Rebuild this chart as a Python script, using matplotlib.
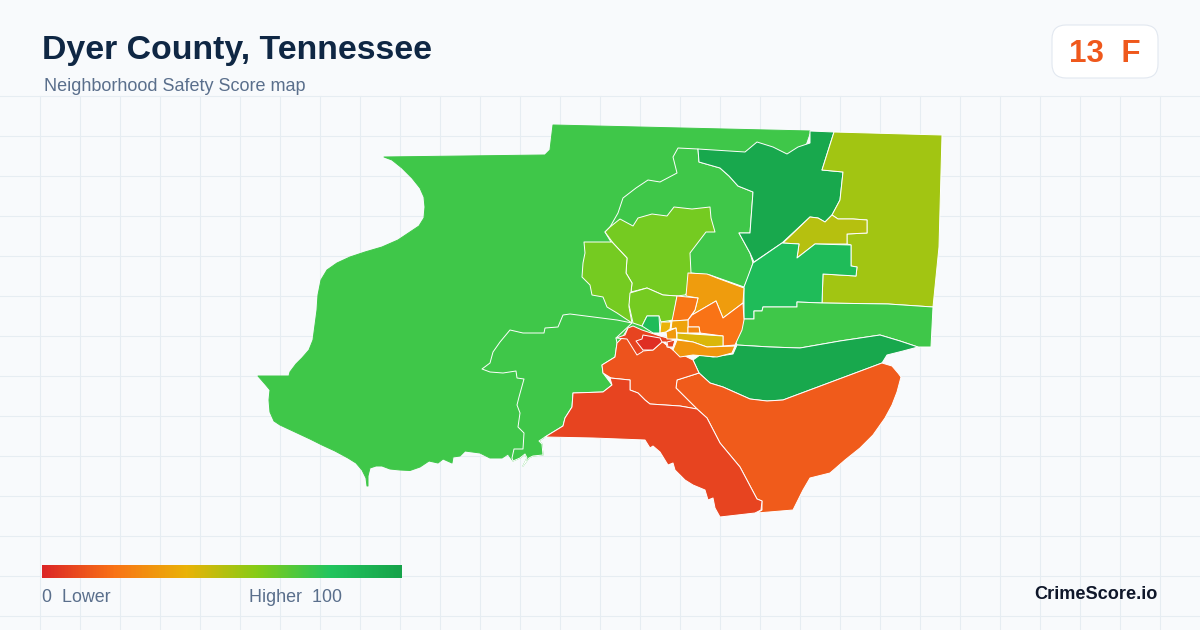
# Dyer County safety score map, outlines in pixels

import numpy as np
import matplotlib
matplotlib.use('Agg')
import matplotlib.pyplot as plt
from matplotlib.colors import LinearSegmentedColormap
from matplotlib.patches import Polygon, FancyBboxPatch

plt.rcParams['font.family'] = ['Liberation Sans', 'DejaVu Sans']

title = 'Dyer County, Tennessee'
subtitle = 'Neighborhood Safety Score map'
badge = '13  F'
brand = 'CrimeScore.io'

scale_stops = [0, 20, 40, 60, 80, 100]
scale_colors = ['#dc2626', '#f97316', '#eab308', '#84cc16', '#22c55e', '#16a34a']

west = [(384,157),(545,155),(550,150),(553,125),(810,131),(800,160),(740,200),(700,300),(640,340),
        (620,350),(600,370),(573,393),(545,437),(539,441),(542,444),(543,455),(533,456),(529,458),(523,466),
        (527,458),(525,454),(520,458),(513,461),(508,454),(502,458),(490,458),(480,453),(465,451),(460,456),
        (453,457),(452,463),(443,459),(438,463),(429,461),(420,467),(410,470.5),(400,470),(390,469),(382,466),
        (376,466),(370,468),(368,476),(368,486),(367,486),(366,478),(362,470),(356,463),(348,458),(335,451),
        (322,445),(310,439),(295,432),(280,425),(274,421),(270,412),(269,400),(270,390),(265,384),(258,376),
        (289,376),(290,372),(296,364),(302,358),(309,350),(313,340),(315,325),(317,310),(318,295),(321,280),
        (327,270),(337,263),(350,257),(365,252),(382,247),(398,240),(410,232),(419,226),(424,218),(425,207),
        (424,197),(420,188),(412,178),(402,168),(392,160)]
west_inner = [(570,314),(563,315),(558,327),(545,328),(544,333),(523,333),(510,330),(500,342),(493,352),(490,363),
              (482,369),(490,372),(503,373),(516,371),(517,378),(524,379),(519,397),(517,405),(520,413),(518,427),
              (524,433),(523,449),(514,449),(512,458),(513,461),(520,458),(525,454),(527,458),(523,466),(529,458),
              (533,456),(543,455),(542,444),(539,441),(545,437),(563,426),(565,418),(572,407),(573,393),(603,392),
              (612,385),(603,373),(602,365),(615,357),(617,343),(616,338),(632,323),(617,320)]
north_mid = [(698,149),(678,148),(673,157),(677,173),(660,182),(648,180),(636,188),(623,198),(618,213),(610,227),(605,232),
             (640,290),(691,273),(710,275),(744,287),(748,278),(753,263),(750,253),(739,233),(750,233),(753,192),(738,186),
             (729,176),(720,168),(699,162)]
dark_north = [(698,149),(745,152),(757,142),(773,147),(787,154),(798,147),(810,143),(810,131),(834,132),(822,170),
              (843,172),(840,200),(832,215),(825,222),(818,218),(810,217),(782,243),(754,262),(750,253),(739,233),
              (750,233),(753,192),(738,186),(729,176),(720,168),(699,162)]
east = [(834,132),(942,135),(939,247),(933,307),(888,304),(822,303),(823,274),(856,276),(857,267),(851,266),
        (851,245),(847,244),(847,234),(867,233),(867,220),(853,219),(838,219),(832,215),(840,200),(843,172),(822,170)]
olive = [(810,217),(818,218),(825,222),(832,215),(838,219),(853,219),(867,220),(867,233),(847,234),(847,244),
         (815,244),(797,258),(799,244),(783,243)]
teal = [(782,243),(799,244),(797,258),(815,244),(851,245),(851,266),(857,267),(856,276),(823,274),(822,303),
        (797,302),(797,307),(763,307),(762,311),(754,311),(754,319),(744,319),(744,287),(753,263)]
band = [(744,319),(754,319),(754,311),(762,311),(763,307),(797,307),(797,302),(822,303),(888,304),(933,307),
        (931,347),(918,347),(900,341),(880,335),(840,341),(800,348),(770,347),(737,345),(735,340)]
dark_south = [(737,345),(770,347),(800,348),(840,341),(880,335),(900,341),(918,347),(903,351),(887,355),(882,363),
              (783,400),(767,401),(750,399),(723,387),(710,383),(699,373),(693,360),(700,355),(713,357),(733,354)]
south = [(699,373),(710,383),(723,387),(750,399),(767,401),(783,400),(882,363),(892,366),(898,373),(901,377),(897,392),
         (892,405),(885,418),(873,435),(860,448),(845,460),(830,473),(810,478),(803,490),(793,510),(757,513),(762,510),
         (762,501),(757,499),(740,467),(720,443),(707,418),(697,409),(676,388),(677,380)]
southwest = [(697,409),(707,418),(720,443),(740,467),(757,499),(762,501),(761,510),(755,513),(720,517),(715,508),
             (713,498),(708,500),(705,490),(693,485),(685,480),(675,470),(673,463),(668,465),(660,452),(653,446),
             (650,448),(645,440),(593,438),(545,437),(563,426),(565,418),(572,407),(573,393),(603,392),(612,385),
             (610,378),(630,380),(630,390),(638,393),(645,400),(650,404),(680,406)]
mid = [(677,380),(699,373),(693,360),(673,350),(660,340),(628,328),(622,338),(617,343),(615,357),(602,365),
       (603,373),(611,378),(630,380),(630,390),(638,393),(645,400),(650,404),(680,406),(697,409),(676,388)]
mid_top = [(616,338),(625,335),(628,328),(633,326),(642,330),(660,336),(675,340),(672,348),(667,347),(666,342),
           (662,342),(653,350),(643,351),(642,352),(637,355),(627,339)]
red_core = [(636,341),(642,339),(643,335),(660,338),(662,342),(653,350),(643,350)]
red_patch = [(667,342),(675,340),(673,347),(668,347)]
lime_large = [(605,232),(610,227),(620,219),(633,226),(638,218),(652,214),(667,216),(674,207),(692,209),(710,207),
              (711,218),(715,232),(706,232),(690,253),(691,273),(687,293),(685,295),(677,296),(663,295),(647,288),
              (631,292),(632,283),(626,273),(627,258),(613,243)]
lime_left = [(584,242),(612,242),(627,258),(626,273),(632,283),(631,292),(629,307),(632,323),(617,313),(607,307),
             (603,297),(592,295),(590,285),(582,277),(583,263),(585,253)]
lime_small = [(630,293),(647,288),(663,295),(677,296),(673,320),(661,322),(659,316),(647,316),(642,326),(633,323),(629,305)]
teal_small = [(642,326),(647,316),(659,316),(660,333),(653,333)]
orange_top = [(688,273),(707,274),(717,278),(744,288),(743,303),(723,318),(716,301),(692,315),(695,310),(698,298),(686,296)]
orange_west = [(677,296),(698,298),(695,310),(688,320),(672,321)]
orange_east = [(716,301),(723,318),(743,303),(744,320),(742,330),(735,345),(723,346),(723,336),(700,333),(699,327),
               (688,327),(688,320),(692,315)]
yellow_a = [(661,322),(671,322),(670,329),(666,332),(660,333)]
orange_b = [(672,321),(688,320),(688,333),(677,333),(676,328),(671,329)]
orange_c = [(666,332),(676,328),(677,339),(667,339)]
orange_box = [(688,327),(699,327),(700,333),(688,333)]
yellow_long = [(677,333),(723,336),(723,346),(707,347),(693,342),(677,339)]
orange_low = [(677,340),(693,342),(707,347),(735,346),(732,353),(717,357),(693,355),(680,357),(673,350)]

# drawn in this order, later ones sit on top
regions = [west, west_inner, north_mid, dark_north, east, olive, teal, band, dark_south, south, mid, southwest,
           mid_top, red_core, red_patch, lime_large, lime_left, lime_small, teal_small, orange_top, orange_west,
           orange_east, yellow_a, orange_b, orange_c, orange_box, yellow_long, orange_low]
scores = [74, 74, 74, 97, 54, 50, 85, 74, 97, 14, 12, 8,
          8, 2, 8, 63, 63, 63, 85, 33, 21,
          20, 40, 35, 32, 26, 43, 31]

BG = '#f8fafc'
GRID = '#e6edf2'

cmap = LinearSegmentedColormap.from_list('score', [(s / 100, c) for s, c in zip(scale_stops, scale_colors)])

fig = plt.figure(figsize=(12, 6.3), dpi=100, facecolor=BG)
ax = fig.add_axes([0, 0, 1, 1])
ax.set_facecolor(BG)
ax.axis('off')

# faint grid under the map
for x in np.arange(40, 1200, 40):
    ax.plot([x, x], [96, 630], color=GRID, lw=0.8, zorder=1)
for y in np.arange(96, 630, 40):
    ax.plot([0, 1200], [y, y], color=GRID, lw=0.8, zorder=1)

for i, (pts, score) in enumerate(zip(regions, scores)):
    color = cmap(score / 100)
    edge = color if i == 0 else 'white'
    ax.add_patch(Polygon(pts, closed=True, facecolor=color, edgecolor=edge, lw=0.7, joinstyle='round', zorder=2 + i * 0.01))

ax.text(42, 59.5, title, fontsize=24.4, fontweight='bold', color='#0f2744', va='baseline', ha='left', zorder=5)
ax.text(44, 91, subtitle, fontsize=12.95, color='#5a6f8c', va='baseline', ha='left', zorder=5)

ax.add_patch(FancyBboxPatch((1052, 25), 106, 53, boxstyle='round,pad=0,rounding_size=14', facecolor='white',
                            edgecolor='#e2e8f0', lw=0.8, zorder=4))
ax.text(1105, 62, badge, fontsize=22.6, fontweight='bold', color='#ef581c', va='baseline', ha='center', zorder=5)

grad = np.linspace(0, 1, 360).reshape(1, -1)
ax.imshow(grad, cmap=cmap, extent=(42, 402, 578, 565), aspect='auto', zorder=4)
ax.text(42, 602.5, '0  Lower', fontsize=12.9, color='#5a6f8c', va='baseline', ha='left', zorder=5)
ax.text(249, 602.5, 'Higher  100', fontsize=12.9, color='#5a6f8c', va='baseline', ha='left', zorder=5)
ax.text(1158, 599, brand, fontsize=13.1, fontweight='bold', color='#0f172a', va='baseline', ha='right', zorder=5)

ax.set_xlim(0, 1200)
ax.set_ylim(630, 0)

fig.savefig('out.png', dpi=100, facecolor=BG)
